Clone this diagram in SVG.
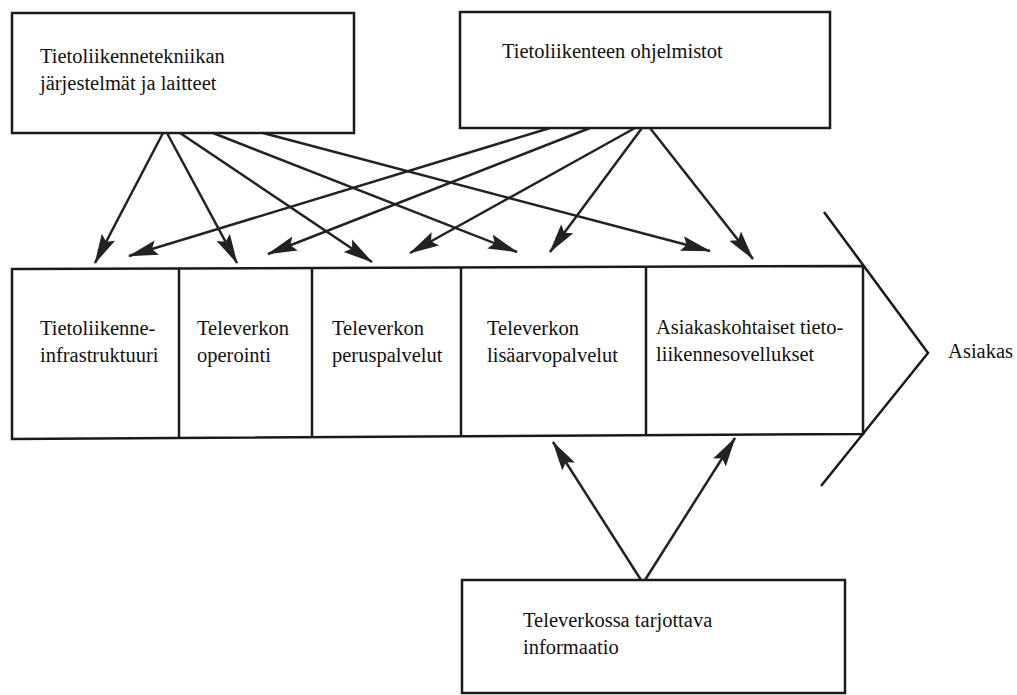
<svg xmlns="http://www.w3.org/2000/svg" width="1017" height="695" viewBox="0 0 1017 695">
<style>
.box{fill:#fff;stroke:#1a1a1a;stroke-width:2.5}
.ln{fill:none;stroke:#1a1a1a;stroke-width:2.5}
.t{font-family:"Liberation Serif","DejaVu Serif","Times New Roman",serif;font-size:20.5px;fill:#111}
.c{stroke:#222;stroke-width:2.5;fill:none;marker-end:url(#ah)}
</style>
<defs>
<marker id="ah" markerUnits="userSpaceOnUse" markerWidth="30" markerHeight="18" viewBox="0 0 30 18" refX="29" refY="9" orient="auto">
<path d="M0,1.5 L30,9 L0,16.5 L5,9 z" fill="#222"/>
</marker>
</defs>
<rect width="1017" height="695" fill="#fff"/>

<g id="node-laitteet">
<rect class="box" x="12" y="13" width="342" height="120"/>
<text class="t" x="40" y="63">Tietoliikennetekniikan</text>
<text class="t" x="40" y="90">järjestelmät ja laitteet</text>
</g>

<g id="node-ohjelmistot">
<rect class="box" x="460" y="12" width="370" height="116"/>
<text class="t" x="502" y="58">Tietoliikenteen ohjelmistot</text>
</g>

<g id="node-chain">
<polygon class="ln" points="12,269 863,266 863,434 12,439"/>
<line class="ln" x1="179" y1="268" x2="179" y2="438"/>
<line class="ln" x1="312" y1="268" x2="312" y2="437"/>
<line class="ln" x1="461" y1="267" x2="461" y2="437"/>
<line class="ln" x1="646" y1="267" x2="646" y2="435"/>
<polyline class="ln" points="824,212 928,353 821,486"/>
</g>

<g id="node-infra">
<text class="t" x="40" y="335">Tietoliikenne-</text>
<text class="t" x="40" y="362">infrastruktuuri</text>
</g>
<g id="node-operointi">
<text class="t" x="197" y="335">Televerkon</text>
<text class="t" x="197" y="362">operointi</text>
</g>
<g id="node-peruspalvelut">
<text class="t" x="332" y="335">Televerkon</text>
<text class="t" x="332" y="362">peruspalvelut</text>
</g>
<g id="node-lisaarvo">
<text class="t" x="487" y="335">Televerkon</text>
<text class="t" x="487" y="362">lisäarvopalvelut</text>
</g>
<g id="node-asiakaskohtaiset">
<text class="t" x="656" y="334">Asiakaskohtaiset tieto-</text>
<text class="t" x="656" y="361">liikennesovellukset</text>
</g>

<g id="node-asiakas">
<text class="t" x="1013" y="358" text-anchor="end">Asiakas</text>
</g>

<g id="node-informaatio">
<rect class="box" x="462" y="580" width="383" height="113"/>
<text class="t" x="523" y="627">Televerkossa tarjottava</text>
<text class="t" x="523" y="654">informaatio</text>
</g>

<g id="connectors">
<line class="c" x1="163" y1="133" x2="95" y2="263"/>
<line class="c" x1="167" y1="133" x2="237" y2="263"/>
<line class="c" x1="180" y1="133" x2="372" y2="262"/>
<line class="c" x1="213" y1="133" x2="517" y2="252"/>
<line class="c" x1="263" y1="133" x2="710" y2="251"/>
<line class="c" x1="550" y1="128" x2="129" y2="256"/>
<line class="c" x1="590" y1="128" x2="268" y2="254"/>
<line class="c" x1="635" y1="128" x2="410" y2="253"/>
<line class="c" x1="642" y1="128" x2="550" y2="252"/>
<line class="c" x1="650" y1="128" x2="753" y2="259"/>
<line class="c" x1="641" y1="580" x2="553" y2="442"/>
<line class="c" x1="645" y1="580" x2="735" y2="438"/>
</g>
</svg>
